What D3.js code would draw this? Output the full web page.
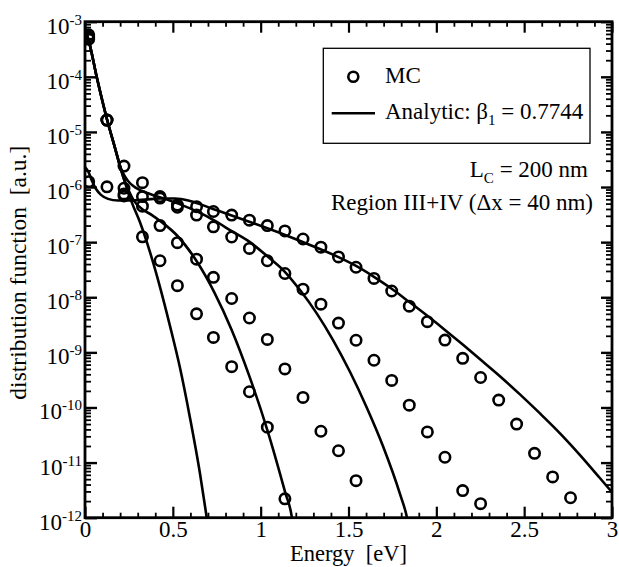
<!DOCTYPE html>
<html>
<head>
<meta charset="utf-8">
<script src="https://cdn.jsdelivr.net/npm/d3@7"></script>
<style>
  html, body { margin: 0; padding: 0; background: #fff; }
  svg { display: block; }
  text { font-family: "Liberation Serif", "Times New Roman", serif; fill: #000; }
</style>
</head>
<body>
<svg id="chart" width="619" height="567"></svg>
<script>
// ---------------- data ----------------
const mcEnergy = [0.021, 0.125, 0.222, 0.327, 0.427, 0.526, 0.635, 0.731, 0.835, 0.936,
                  1.038, 1.138, 1.241, 1.343, 1.443, 1.543, 1.645, 1.746, 1.846, 1.949,
                  2.049, 2.150, 2.252, 2.355, 2.457, 2.559, 2.662, 2.764];
const mc1 = [4.8e-4, 1.64e-5, 7.5e-7, 1.25e-7, 4.6e-8, 1.62e-8, 5.0e-9, 1.87e-9, 5.5e-10, 1.93e-10, 4.4e-11, 2.2e-12];
const mc2 = [5.3e-4, 1.64e-5, 9.5e-7, 4.5e-7, 2.0e-7, 9.8e-8, 4.9e-8, 2.3e-8, 9.5e-9, 4.2e-9, 1.72e-9,
             5.0e-10, 1.52e-10, 3.7e-11, 1.64e-11, 4.7e-12];
const mc3 = [5.8e-4, 1.64e-5, 2.4e-6, 1.2e-6, 6.7e-7, 4.3e-7, 3.1e-7, 1.9e-7, 1.24e-7, 7.7e-8, 4.6e-8,
             2.7e-8, 1.4e-8, 7.5e-9, 3.4e-9, 1.66e-9, 7.2e-10, 3.1e-10, 1.1e-10, 3.6e-11, 1.25e-11,
             3.1e-12, 1.8e-12];
const mc4 = [1.25e-6, 1.01e-6, 6.9e-7, 6.7e-7, 6.3e-7, 4.7e-7, 4.4e-7, 3.6e-7, 3.1e-7, 2.5e-7, 2.0e-7,
             1.6e-7, 1.14e-7, 8.1e-8, 5.4e-8, 3.5e-8, 2.2e-8, 1.3e-8, 6.9e-9, 3.6e-9, 1.67e-9,
             7.8e-10, 3.5e-10, 1.36e-10, 5.0e-11, 1.47e-11, 5.5e-12, 2.3e-12];

const an1E = [0, 0.019, 0.068, 0.125, 0.171, 0.218, 0.268, 0.313, 0.370, 0.427, 0.484, 0.541, 0.598, 0.655, 0.693, 0.712];
const an1F = [7e-4, 4.8e-4, 9.5e-5, 1.7e-5, 5.1e-6, 1.52e-6, 5.1e-7, 2.3e-7, 6.6e-8, 1.53e-8, 3.0e-9, 5.2e-10, 6.4e-11, 6.2e-12, 1e-12, 4e-13];

const an2E = [0, 0.019, 0.068, 0.125, 0.171, 0.218, 0.245, 0.279, 0.3245, 0.381, 0.437, 0.524, 0.634, 0.734, 0.835, 0.933, 1.038, 1.140, 1.177, 1.19];
const an2F = [7e-4, 4.8e-4, 9.5e-5, 1.7e-5, 5.1e-6, 1.52e-6, 9.2e-7, 5.6e-7, 4.0e-7, 3.1e-7, 2.3e-7, 1.32e-7, 4.6e-8, 1.27e-8, 2.55e-9, 3.9e-10, 3.9e-11, 2.85e-12, 1.04e-12, 5e-13];

const an3E = [0, 0.019, 0.068, 0.125, 0.171, 0.199, 0.222, 0.245, 0.273, 0.313, 0.370, 0.455, 0.552, 0.655, 0.740, 0.825,
              0.939, 1.036, 1.139, 1.224, 1.321, 1.412, 1.509, 1.605, 1.696, 1.793, 1.833, 1.85];
const an3F = [7e-4, 4.8e-4, 9.5e-5, 1.7e-5, 5.1e-6, 2.41e-6, 1.66e-6, 1.29e-6, 1.05e-6, 8.8e-7, 7.5e-7, 6.1e-7, 4.7e-7, 3.4e-7, 2.42e-7, 1.66e-7,
              1.0e-7, 5.6e-8, 2.87e-8, 1.35e-8, 5.0e-9, 1.67e-9, 4.4e-10, 9.8e-11, 2.0e-11, 2.7e-12, 1e-12, 5e-13];

const an4E = [0, 0.02, 0.04, 0.063, 0.091, 0.131, 0.188, 0.256, 0.342, 0.427, 0.512, 0.598, 0.729, 0.939, 1.139, 1.281,
              1.440, 1.543, 1.645, 1.748, 1.844, 1.947, 2.049, 2.152, 2.249, 2.362, 2.476, 2.590, 2.704, 2.818, 2.932, 3.0];
const an4F = [2.3e-6, 1.87e-6, 1.29e-6, 9.2e-7, 7.2e-7, 6.1e-7, 5.7e-7, 5.7e-7, 5.9e-7, 6.2e-7, 6.2e-7, 5.6e-7, 4.0e-7, 2.32e-7, 1.35e-7, 8.9e-8,
              5.4e-8, 3.7e-8, 2.35e-8, 1.41e-8, 8.3e-9, 4.65e-9, 2.55e-9, 1.37e-9, 7.5e-10, 3.7e-10, 1.73e-10, 7.8e-11, 3.4e-11, 1.37e-11, 5.2e-12, 2.9e-12];

const xMajorTicks = [0, 0.5, 1, 1.5, 2, 2.5, 3];
const xTickLabels = ["0", "0.5", "1", "1.5", "2", "2.5", "3"];
const yExponents = [-3, -4, -5, -6, -7, -8, -9, -10, -11, -12];

const xTitle = "Energy  [eV]";
const yTitle = "distribution function  [a.u.]";

// ---------------- layout ----------------
const svg = d3.select("#chart");
const L = 85, R = 612, T = 21.7, B = 517.7;
const x = d3.scaleLinear().domain([0, 3]).range([L, R]);
const y = d3.scaleLog().domain([1e-12, 1e-3]).range([B, T]);

svg.append("defs").append("clipPath").attr("id", "plotclip")
  .append("rect").attr("x", L).attr("y", T).attr("width", R - L).attr("height", B - T);

// ---------------- ticks ----------------
const xMinor = d3.range(0, 31).map(i => i / 10).filter(v => Math.abs(v * 2 - Math.round(v * 2)) > 1e-6);
const yMajor = yExponents.map(e => Math.pow(10, e));
const yMinor = [];
for (let e = -12; e < -3; e++) for (let m = 2; m <= 9; m++) yMinor.push(m * Math.pow(10, e));

function styleAxis(g, w) {
  g.select(".domain").remove();
  g.selectAll(".tick line").attr("stroke", "#000").attr("stroke-width", w);
}

svg.append("g").attr("transform", `translate(0,${B})`)
  .call(d3.axisBottom(x).tickValues(xMinor).tickSize(-5).tickFormat(""))
  .call(g => styleAxis(g, 1.8));
svg.append("g").attr("transform", `translate(0,${T})`)
  .call(d3.axisTop(x).tickValues(xMinor).tickSize(-5).tickFormat(""))
  .call(g => styleAxis(g, 1.8));
svg.append("g").attr("transform", `translate(0,${T})`)
  .call(d3.axisTop(x).tickValues(xMajorTicks).tickSize(-11).tickFormat(""))
  .call(g => styleAxis(g, 2.2));
const xAx = svg.append("g").attr("transform", `translate(0,${B})`)
  .call(d3.axisBottom(x).tickValues(xMajorTicks).tickSize(-11).tickPadding(3)
        .tickFormat((d, i) => xTickLabels[i]))
  .call(g => styleAxis(g, 2.2));
xAx.selectAll(".tick text")
  .attr("font-family", '"Liberation Serif", "Times New Roman", serif')
  .attr("font-size", 23).attr("fill", "#000");

svg.append("g").attr("transform", `translate(${L},0)`)
  .call(d3.axisLeft(y).tickValues(yMinor).tickSize(-6).tickFormat(""))
  .call(g => styleAxis(g, 1.8));
svg.append("g").attr("transform", `translate(${R},0)`)
  .call(d3.axisRight(y).tickValues(yMinor).tickSize(-6).tickFormat(""))
  .call(g => styleAxis(g, 1.8));
svg.append("g").attr("transform", `translate(${L},0)`)
  .call(d3.axisLeft(y).tickValues(yMajor).tickSize(-12).tickFormat(""))
  .call(g => styleAxis(g, 2.4));
svg.append("g").attr("transform", `translate(${R},0)`)
  .call(d3.axisRight(y).tickValues(yMajor).tickSize(-11).tickFormat(""))
  .call(g => styleAxis(g, 2.4));

// y tick labels 10^n
const yl = svg.append("g");
yExponents.forEach(e => {
  const t = yl.append("text").attr("x", L - 3).attr("y", y(Math.pow(10, e)) + 12)
    .attr("text-anchor", "end").attr("font-size", 23);
  t.append("tspan").text("10");
  t.append("tspan").attr("font-size", 15).attr("dy", -9).text(String(e));
});

// frame
svg.append("rect").attr("x", L).attr("y", T).attr("width", R - L).attr("height", B - T)
  .attr("fill", "none").attr("stroke", "#000").attr("stroke-width", 2.8);

// ---------------- curves ----------------
const line = d3.line().x(d => x(d[0])).y(d => y(d[1])).curve(d3.curveMonotoneX);
const plot = svg.append("g").attr("clip-path", "url(#plotclip)");
[[an1E, an1F], [an2E, an2F], [an3E, an3F], [an4E, an4F]].forEach(([E, F]) => {
  plot.append("path").datum(E.map((e, i) => [e, F[i]]))
    .attr("d", line).attr("fill", "none").attr("stroke", "#000")
    .attr("stroke-width", 2.6).attr("stroke-linejoin", "round");
});

// MC circles
[mc1, mc2, mc3, mc4].forEach(vals => {
  plot.append("g").selectAll("circle").data(vals.map((v, i) => [mcEnergy[i], v]))
    .join("circle")
    .attr("cx", d => x(d[0])).attr("cy", d => y(d[1])).attr("r", 5.2)
    .attr("fill", "none").attr("stroke", "#000").attr("stroke-width", 2.6);
});

// ---------------- titles ----------------
svg.append("text").attr("x", (L + R) / 2).attr("y", 561).attr("text-anchor", "middle")
  .attr("font-size", 22.5).style("white-space", "pre").text(xTitle);
svg.append("text").attr("transform", `translate(26,${(T + B) / 2 + 3}) rotate(-90)`)
  .attr("text-anchor", "middle").attr("font-size", 23.5).style("white-space", "pre").text(yTitle);

// ---------------- legend ----------------
const lg = svg.append("g");
lg.append("rect").attr("x", 323.3).attr("y", 48.3).attr("width", 266.7).attr("height", 95)
  .attr("fill", "#fff").attr("stroke", "#000").attr("stroke-width", 1.3);
lg.append("circle").attr("cx", 353.3).attr("cy", 76.7).attr("r", 5)
  .attr("fill", "none").attr("stroke", "#000").attr("stroke-width", 2.6);
lg.append("text").attr("x", 385).attr("y", 83).attr("font-size", 23).text("MC");
lg.append("line").attr("x1", 331.7).attr("x2", 375).attr("y1", 113.3).attr("y2", 113.3)
  .attr("stroke", "#000").attr("stroke-width", 2.6);
const at = lg.append("text").attr("x", 385).attr("y", 118.5).attr("font-size", 23);
at.append("tspan").text("Analytic: \u03B2");
at.append("tspan").attr("font-size", 15).attr("dy", 6).text("1");
at.append("tspan").attr("dy", -6).text(" = 0.7744");

// annotations
const lc = svg.append("text").attr("x", 588).attr("y", 177).attr("text-anchor", "end").attr("font-size", 23);
lc.append("tspan").text("L");
lc.append("tspan").attr("font-size", 15).attr("dy", 6).text("C");
lc.append("tspan").attr("dy", -6).text(" = 200 nm");
svg.append("text").attr("x", 593).attr("y", 210).attr("text-anchor", "end").attr("font-size", 23)
  .text("Region III+IV (\u0394x = 40 nm)");
</script>
</body>
</html>
